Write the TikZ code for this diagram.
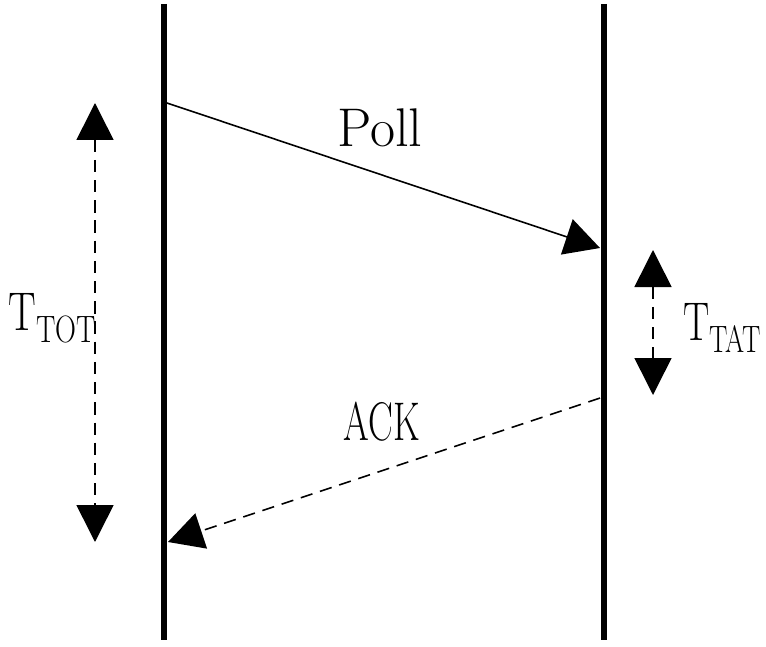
\documentclass[tikz,border=0pt]{standalone}
\usepackage{tikz}
\usetikzlibrary{arrows.meta, positioning}

\begin{document}
\begin{tikzpicture}[scale=1, thick]
      \useasboundingbox (0,0) rectangle (15.32,12.92);
      \tikzset{
        lifeline/.style={line width=3.4pt},
        msg/.style={line width=0.9pt, -{Triangle[length=0.7cm, width=0.74cm]}},
        span/.style={line width=0.9pt, dash pattern=on 7pt off 4.5pt,
          {Triangle[length=0.74cm, width=0.74cm]}-{Triangle[length=0.74cm, width=0.74cm]}},
        lbl/.style={font=\fontsize{31}{36}\selectfont, inner sep=0pt},
        narrow/.style={transform shape, xscale=#1}
      }
      % the two stations
      \coordinate (M-top) at (3.28, 12.84);
      \coordinate (M-bot) at (3.28, 0.12);
      \coordinate (S-top) at (12.08, 12.84);
      \coordinate (S-bot) at (12.08, 0.12);
      \draw[lifeline] (M-top) -- (M-bot);
      \draw[lifeline] (S-top) -- (S-bot);
      % poll and ack
      \coordinate (poll-a) at (3.34, 10.86);
      \coordinate (poll-b) at (12.0, 7.96);
      \coordinate (ack-a) at (12.0, 4.96);
      \coordinate (ack-b) at (3.36, 2.08);
      \draw[msg] (poll-a) -- (poll-b);
      \draw[msg, dash pattern=on 7pt off 4.5pt] (ack-a) -- (ack-b);
      \node[lbl] (poll) at (7.6, 10.36) {Poll};
      \node[lbl, narrow=0.68] (ack) at (7.64, 4.48) {ACK};
      % times
      \coordinate (tot-a) at (1.9, 10.86);
      \coordinate (tot-b) at (1.9, 2.08);
      \coordinate (tat-a) at (13.06, 7.92);
      \coordinate (tat-b) at (13.06, 5.02);
      \draw[span] (tot-a) -- (tot-b);
      \draw[span] (tat-a) -- (tat-b);
      \node[lbl, narrow=0.76, anchor=west] (tot) at (0.16, 6.56) {T\textsubscript{TOT}};
      \node[lbl, narrow=0.72, anchor=west] (tat) at (13.66, 6.36) {T\textsubscript{TAT}};
    \end{tikzpicture}
\end{document}
